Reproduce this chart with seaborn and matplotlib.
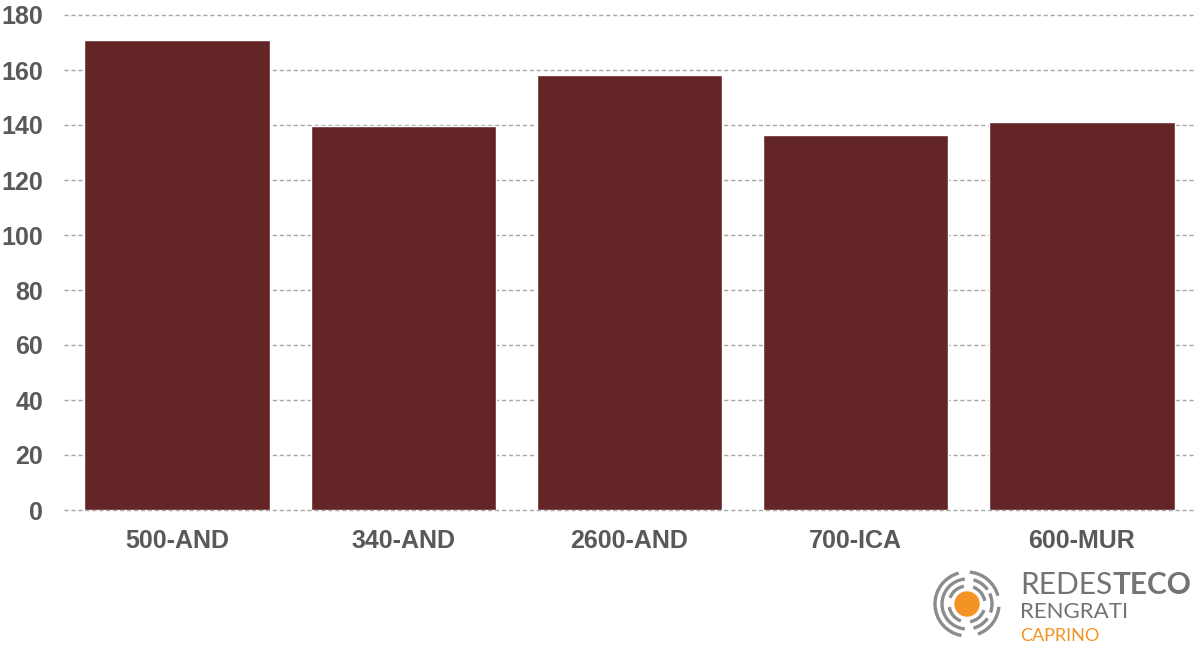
import matplotlib
matplotlib.use("Agg")
import matplotlib.pyplot as plt
import seaborn as sns
import pandas as pd
from matplotlib.patches import Circle, Arc

# dati
categorie = ["500-AND", "340-AND", "2600-AND", "700-ICA", "600-MUR"]
valori = [170.8, 139.6, 158.2, 136.3, 141.0]
tick_y = [0, 20, 40, 60, 80, 100, 120, 140, 160, 180]

df = pd.DataFrame({"Stazione": categorie, "Valore": valori})

sns.set_theme(style="white")
plt.rcParams["font.family"] = ["Liberation Sans", "DejaVu Sans"]

fig = plt.figure(figsize=(11.97, 6.49), dpi=100)
ax = fig.add_axes([64 / 1197, 139 / 649, 1131 / 1197, 495 / 649])

sns.barplot(data=df, x="Stazione", y="Valore", color="#632526", width=0.82,
            saturation=1, ax=ax, zorder=3)

ax.set_ylim(0, 180)
ax.set_xlim(-0.5, 4.5)
ax.set_yticks(tick_y)
ax.yaxis.grid(True, color="#a6a6a6", linestyle=(0, (3, 2)), linewidth=1, zorder=0)
for gl in ax.get_ygridlines():
    gl.set_clip_on(False)
ax.set_axisbelow(True)
for s in ax.spines.values():
    s.set_visible(False)
ax.tick_params(axis="both", length=0, labelsize=18, labelcolor="#595959")
ax.tick_params(axis="y", pad=15)
ax.tick_params(axis="x", pad=14)
for lab in ax.get_xticklabels() + ax.get_yticklabels():
    lab.set_fontweight("bold")
ax.set_xlabel("")
ax.set_ylabel("")

# logo in basso a destra
lax = fig.add_axes([0, 0, 1, 1], zorder=-1)
lax.set_xlim(0, 1197)
lax.set_ylim(649, 0)
lax.axis("off")
lax.add_patch(Circle((967, 604), 12, color="#f39323"))
grigio = "#8c8c8c"
archi = [
    (18, 20, 80), (18, 110, 170), (18, 200, 260), (18, 290, 350),
    (25, 95, 265), (25, 285, 325), (25, 335, 20), (25, 35, 75),
    (32, 100, 255), (32, 275, 345), (32, 5, 70),
]
for r, t1, t2 in archi:
    lax.add_patch(Arc((967, 604), 2 * r, 2 * r, theta1=t1, theta2=t2,
                      color=grigio, linewidth=2.4))

t1 = lax.text(1020, 594, "REDES", fontsize=21.5, color="#737373",
              family="Lato", fontweight="normal", va="baseline")
lax.annotate("TECO", xy=(1, 0), xycoords=t1, fontsize=21.5, color="#737373",
             family="Lato", fontweight="bold", va="bottom")
lax.text(1020, 618, "RENGRATI", fontsize=16, color="#737373",
         family="Lato", va="baseline")
lax.text(1020, 641, "CAPRINO", fontsize=13, color="#f39323",
         family="Lato", va="baseline")

fig.savefig("out.png", dpi=100)
